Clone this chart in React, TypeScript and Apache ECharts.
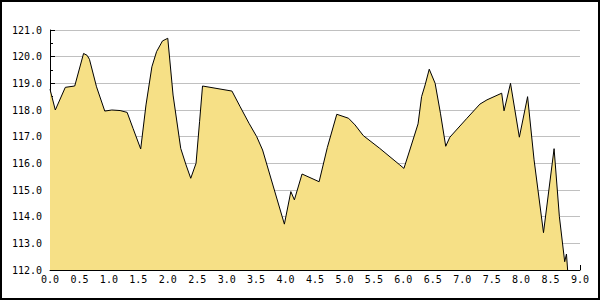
import React, { useEffect, useRef } from "react";
import * as echarts from "echarts";

const xValues = [0, 0.09, 0.26, 0.42, 0.57, 0.63, 0.67, 0.79, 0.93, 1.05, 1.19, 1.31, 1.41, 1.54, 1.63, 1.73, 1.81, 1.91, 2.0, 2.09, 2.22, 2.31, 2.39, 2.48, 2.54, 2.59, 3.09, 3.23, 3.38, 3.51, 3.61, 3.98, 4.09, 4.15, 4.28, 4.57, 4.71, 4.87, 5.07, 5.18, 5.32, 5.6, 5.94, 6.01, 6.11, 6.25, 6.31, 6.37, 6.44, 6.54, 6.63, 6.72, 6.79, 7.08, 7.3, 7.42, 7.67, 7.71, 7.82, 7.97, 8.11, 8.22, 8.38, 8.56, 8.65, 8.74, 8.77, 8.79];
const yValues = [118.78, 118.0, 118.85, 118.9, 120.12, 120.05, 119.9, 118.87, 117.96, 118.0, 117.98, 117.91, 117.31, 116.54, 118.19, 119.62, 120.19, 120.59, 120.69, 118.56, 116.56, 115.94, 115.44, 116.0, 117.56, 118.9, 118.71, 118.12, 117.5, 117.0, 116.5, 113.72, 114.94, 114.63, 115.6, 115.31, 116.6, 117.84, 117.69, 117.44, 117.04, 116.56, 115.94, 115.81, 116.5, 117.48, 118.5, 118.94, 119.53, 119.0, 117.88, 116.64, 116.98, 117.69, 118.22, 118.38, 118.63, 117.97, 119.0, 116.98, 118.5, 116.13, 113.4, 116.55, 114.0, 112.31, 112.6, 112.0];

const xMin = 0;
const xMax = 9;
const xStep = 0.5;
const yMin = 112;
const yMax = 121;
const yStep = 1;

export default function App() {
  const ref = useRef<HTMLDivElement>(null);
  useEffect(() => {
    if (!ref.current) return;
    const chart = echarts.init(ref.current, null, { renderer: "svg" });
    const font = "'DejaVu Sans Mono', monospace";
    chart.setOption({
      animation: false,
      backgroundColor: "#ffffff",
      grid: { left: 50, right: 20, top: 30, bottom: 30, containLabel: false },
      graphic: [
        {
          type: "rect",
          shape: { x: 1, y: 1, width: 598, height: 298 },
          style: { fill: "none", stroke: "#000", lineWidth: 2 },
          silent: true,
          z: 100,
        },
      ],
      xAxis: {
        type: "value",
        min: xMin,
        max: xMax,
        interval: xStep,
        axisLine: { show: true, lineStyle: { color: "#000", width: 1 } },
        axisTick: { show: true, inside: true, length: 5, lineStyle: { color: "#000" } },
        axisLabel: {
          margin: 4,
          color: "#000",
          fontFamily: font,
          fontSize: 10,
          formatter: (v: number) => v.toFixed(1),
        },
        splitLine: { show: false },
      },
      yAxis: {
        type: "value",
        min: yMin,
        max: yMax,
        interval: yStep,
        axisLine: { show: true, lineStyle: { color: "#000", width: 1 } },
        axisTick: { show: true, inside: true, length: 5, lineStyle: { color: "#000" } },
        minorTick: { show: true, splitNumber: 2, length: 3, lineStyle: { color: "#000" } },
        axisLabel: {
          margin: 8,
          color: "#000",
          fontFamily: font,
          fontSize: 10,
          formatter: (v: number) => v.toFixed(1),
        },
        splitLine: { show: true, lineStyle: { color: "#c0c0c0", width: 1 } },
      },
      series: [
        {
          type: "line",
          data: xValues.map((x, i) => [x, yValues[i]]),
          showSymbol: false,
          symbol: "none",
          lineStyle: { color: "#000", width: 1 },
          areaStyle: { color: "#f6e086", opacity: 1, origin: "start" },
          z: 2,
        },
      ],
    });
    return () => chart.dispose();
  }, []);
  return (
    <div
      ref={ref}
      style={{ position: "absolute", left: 0, top: 0, width: 600, height: 300 }}
    />
  );
}
